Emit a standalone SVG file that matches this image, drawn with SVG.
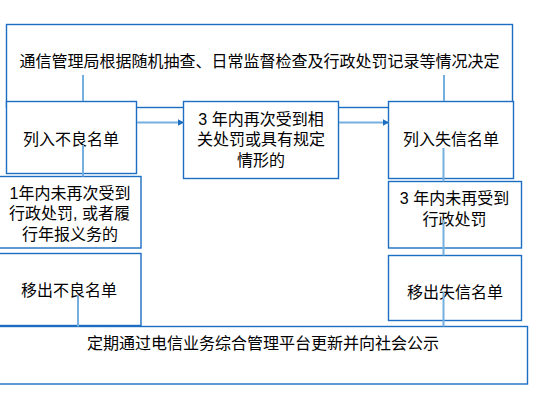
<svg xmlns="http://www.w3.org/2000/svg" width="535" height="403" viewBox="0 0 535 403">
<style>
.box{fill:#fff;stroke:#1b6ec2;stroke-width:1.4}
.frame{fill:none;stroke:#1b6ec2;stroke-width:1.4}
.t{font-family:"Liberation Sans","Noto Sans CJK SC",sans-serif;font-size:16px;fill:#000;text-anchor:middle}
.ln{stroke:#74afe0;stroke-width:2;fill:none}
</style>
<defs>
<marker id="ah" markerUnits="userSpaceOnUse" markerWidth="8" markerHeight="8" refX="6" refY="3.5" orient="auto">
<path d="M0,0 L6.5,3.5 L0,7 Z" fill="#1b6ec2"/>
</marker>
</defs>
<rect width="535" height="403" fill="#fff"/>
<g id="decide">
<rect class="frame" x="6.5" y="24.5" width="506" height="83"/>
<text class="t" x="259.5" y="67">通信管理局根据随机抽查、日常监督检查及行政处罚记录等情况决定</text>
</g>
<g id="bad-list">
<rect class="box" x="6.5" y="101.5" width="130" height="72"/>
<text class="t" x="71" y="144.5">列入不良名单</text>
</g>
<g id="three-year">
<rect class="box" x="183.5" y="101.5" width="155" height="77"/>
<text class="t" y="124.5"><tspan x="261">3 年内再次受到相</tspan><tspan x="261" dy="20.5">关处罚或具有规定</tspan><tspan x="261" dy="21">情形的</tspan></text>
</g>
<g id="dishonest-list">
<rect class="box" x="388.5" y="101.5" width="125" height="77"/>
<text class="t" x="451" y="144.5">列入失信名单</text>
</g>
<g id="one-year">
<rect class="box" x="-1" y="176.5" width="142" height="71.5"/>
<text class="t" y="198.5"><tspan x="70">1年内未再次受到</tspan><tspan x="69.5" dy="20.5">行政处罚, 或者履</tspan><tspan x="70" dy="20.5">行年报义务的</tspan></text>
</g>
<g id="three-year-clean">
<rect class="box" x="388.5" y="181.5" width="133" height="66.5"/>
<text class="t" y="204"><tspan x="454.5">3 年内未再受到</tspan><tspan x="454.5" dy="20.5">行政处罚</tspan></text>
</g>
<g id="remove-bad">
<rect class="box" x="-1" y="253.5" width="142" height="72"/>
<text class="t" x="69" y="295.5">移出不良名单</text>
</g>
<g id="remove-dishonest">
<rect class="box" x="388.5" y="255.5" width="133" height="65"/>
<text class="t" x="455" y="297.5">移出失信名单</text>
</g>
<g id="publish">
<rect class="box" x="-1" y="326.5" width="528.5" height="57.5"/>
<text class="t" x="263" y="348.5">定期通过电信业务综合管理平台更新并向社会公示</text>
</g>
<g id="connectors">
<line class="ln" x1="83" y1="75" x2="83" y2="101"/>
<line class="ln" x1="444" y1="75" x2="444" y2="101"/>
<line class="ln" x1="83" y1="145" x2="83" y2="176.5"/>
<line class="ln" x1="443.5" y1="148" x2="443.5" y2="181.5"/>
<line class="ln" x1="443.5" y1="220" x2="443.5" y2="255.5"/>
<line class="ln" x1="443.5" y1="292" x2="443.5" y2="326.5"/>
<line class="ln" x1="78" y1="295" x2="78" y2="326.5"/>
<line class="ln" x1="137" y1="122.5" x2="183.5" y2="122.5" marker-end="url(#ah)"/>
<line class="ln" x1="339" y1="122.5" x2="388.5" y2="122.5" marker-end="url(#ah)"/>
</g>
</svg>
